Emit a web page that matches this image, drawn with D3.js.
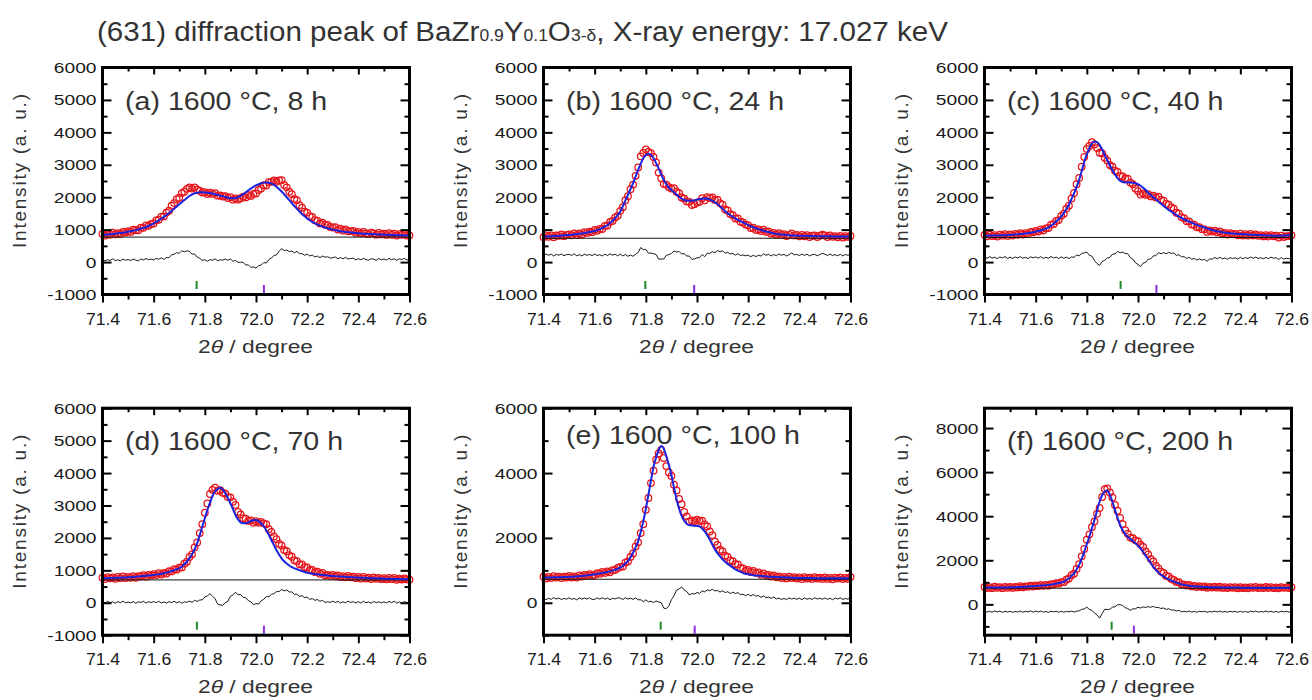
<!DOCTYPE html>
<html>
<head>
<meta charset="utf-8">
<script src="https://cdn.jsdelivr.net/npm/d3@7"></script>
<style>
  body { margin: 0; background: #fff; }
  svg { display: block; font-family: "Liberation Sans", Arial, Helvetica, sans-serif; }
</style>
</head>
<body>
<svg id="chart" width="1312" height="700"></svg>
<script>
// ---- scan grid (2θ, degrees) ----
const scanStart = 71.40;
const scanStep = 0.01;

// ---- panel captions ----
const panelLabels = ["(a) 1600 °C, 8 h", "(b) 1600 °C, 24 h", "(c) 1600 °C, 40 h",
                     "(d) 1600 °C, 70 h", "(e) 1600 °C, 100 h", "(f) 1600 °C, 200 h"];

// ---- axis ticks ----
const xMajorTicks = [71.4, 71.6, 71.8, 72.0, 72.2, 72.4, 72.6];
const xMinorTicks = [71.5, 71.7, 71.9, 72.1, 72.3, 72.5];
const yMajorStd = [-1000, 0, 1000, 2000, 3000, 4000, 5000, 6000];
const yMinorStd = [-500, 500, 1500, 2500, 3500, 4500, 5500];
const yMajorE = [0, 2000, 4000, 6000];
const yMinorE = [-1000, 1000, 3000, 5000];
const yMajorF = [0, 2000, 4000, 6000, 8000];
const yMinorF = [-1000, 1000, 3000, 5000, 7000];
const yDomains = [[-1000, 6000], [-1000, 6000], [-1000, 6000], [-1000, 6000], [-1000, 6000], [-1400, 8900]];

// ---- refinement extras ----
const backgroundLevel = [770, 735, 760, 705, 725, 730];
const diffOffset = [65, 219, 137, 15, 125, -333];
const braggGreen = [71.768, 71.798, 71.932, 71.769, 71.858, 71.897];
const braggPurple = [72.031, 71.989, 72.072, 72.031, 71.991, 71.984];

// ---- observed intensities (71.40 … 72.60, step 0.01) ----
const obsA = [866,819,862,845,903,857,891,866,932,910,
  950,930,996,980,981,1060,1055,1128,1118,1173,
  1190,1286,1305,1402,1407,1525,1582,1737,1819,1937,
  1985,2128,2169,2258,2301,2265,2305,2230,2200,2142,
  2153,2100,2138,2102,2128,2047,2055,2023,2035,1975,
  2000,1925,1960,1925,1970,2015,1995,2060,2040,2105,
  2115,2225,2270,2370,2360,2460,2475,2520,2480,2515,
  2525,2380,2305,2170,2095,1950,1910,1755,1675,1555,
  1525,1415,1390,1290,1277,1193,1213,1151,1142,1080,
  1065,1078,1002,1028,975,1009,949,955,957,900,
  928,887,927,882,862,903,884,845,896,853,
  875,837,889,841,873,820,862,839,866,818,
  825];
const obsB = [764,818,782,822,767,822,808,849,800,840,
  856,828,886,835,880,851,919,899,941,922,
  989,965,1025,1020,1118,1129,1240,1270,1375,1425,
  1580,1690,1910,2030,2245,2390,2660,2915,3260,3365,
  3470,3395,3360,3240,3070,2760,2585,2405,2390,2310,
  2265,2275,2170,2125,1990,1955,1870,1858,1760,1785,
  1835,1860,1970,1907,2005,1975,1990,1915,1925,1820,
  1770,1620,1590,1480,1443,1345,1345,1242,1222,1155,
  1135,1050,1062,992,1005,955,1002,935,945,875,
  900,845,888,838,860,803,837,887,823,835,
  793,840,793,831,774,812,820,774,812,846,
  820,774,823,777,801,765,809,758,802,776,
  805];
const obsC = [840,795,846,802,828,790,842,815,863,807,
  851,816,867,844,892,851,892,864,932,917,
  958,941,1006,975,1040,1050,1155,1170,1265,1295,
  1425,1490,1650,1740,1960,2130,2400,2595,2940,3240,
  3490,3580,3695,3625,3515,3370,3350,3215,3130,2990,
  2945,2815,2780,2660,2640,2580,2570,2450,2400,2270,
  2190,2080,2120,2075,2090,2025,2050,1990,2020,1920,
  1890,1790,1770,1685,1645,1520,1495,1387,1350,1257,
  1255,1160,1152,1072,1078,1015,1009,929,973,939,
  971,915,946,883,901,850,890,857,870,824,
  873,818,858,819,865,821,852,809,830,791,
  827,789,832,795,813,757,813,771,802,799,
  830];
const obsD = [774,732,790,753,781,739,797,760,813,761,
  795,770,821,772,824,811,853,806,859,838,
  882,853,910,873,919,904,972,968,1036,1020,
  1083,1090,1205,1268,1410,1494,1710,1859,2150,2423,
  2775,3062,3355,3483,3550,3454,3470,3395,3365,3260,
  3252,3115,3017,2800,2721,2605,2590,2525,2537,2470,
  2513,2465,2495,2450,2425,2270,2182,2045,1958,1820,
  1766,1630,1590,1470,1420,1308,1285,1185,1180,1095,
  1089,1003,1014,947,961,896,917,843,860,828,
  861,815,844,789,819,784,829,784,804,759,
  795,747,799,751,773,730,782,744,766,728,
  759,722,765,728,766,709,742,715,748,721,
  714];
const obsE = [801,748,795,762,819,776,808,765,802,779,
  826,780,815,776,843,811,855,835,885,841,
  858,916,895,950,920,969,938,1005,1013,1073,
  1102,1115,1240,1276,1415,1521,1735,1863,2150,2420,
  2865,3232,3690,4074,4410,4604,4717,4465,4215,4020,
  3910,3640,3465,3200,3040,2800,2665,2510,2540,2523,
  2560,2522,2535,2414,2355,2199,2085,1883,1785,1635,
  1582,1455,1415,1305,1285,1191,1180,1077,1060,992,
  1013,949,982,922,933,865,903,847,856,811,
  846,788,810,762,794,751,803,765,787,749,
  785,734,788,747,771,735,789,748,772,736,
  780,735,770,725,775,745,785,730,765,740,
  795];
const obsF = [788,739,775,736,797,753,784,736,793,755,
  793,746,790,770,820,771,818,800,852,805,
  858,826,880,840,879,849,915,905,965,940,
  1005,1005,1115,1172,1320,1389,1605,1823,2180,2514,
  2935,3176,3510,3768,4110,4372,4870,5231,5262,5080,
  4850,4513,4245,3926,3640,3362,3205,3030,3000,2903,
  2870,2710,2605,2402,2270,2064,1945,1751,1635,1485,
  1428,1290,1265,1153,1110,1015,1008,908,898,854,
  878,815,839,789,825,787,815,754,788,760,
  798,756,799,747,775,738,782,751,775,729,
  778,733,773,728,783,748,788,738,768,743,
  788,743,778,733,768,728,783,748,773,738,
  778];

// ---- calculated profiles (same grid) ----
const calcA = [836,844,852,860,868,877,886,896,907,920,
  935,950,966,985,1006,1030,1055,1083,1113,1148,
  1190,1236,1285,1337,1392,1450,1512,1577,1644,1712,
  1780,1848,1914,1978,2036,2085,2120,2140,2150,2152,
  2148,2140,2128,2112,2093,2072,2050,2028,2005,1985,
  1970,1965,1975,2000,2040,2090,2150,2210,2270,2320,
  2365,2400,2430,2450,2455,2445,2420,2380,2325,2255,
  2175,2090,2000,1910,1820,1730,1645,1560,1480,1410,
  1345,1290,1240,1195,1157,1123,1093,1066,1042,1020,
  1000,983,967,953,940,929,919,910,902,895,
  888,882,877,872,867,863,859,855,851,848,
  845,842,839,836,833,830,827,824,821,818,
  815];
const calcB = [784,788,792,797,802,807,813,819,825,830,
  836,843,851,860,870,881,894,909,926,942,
  959,985,1015,1050,1093,1144,1205,1275,1355,1450,
  1555,1720,1895,2070,2250,2430,2640,2840,3030,3200,
  3300,3340,3300,3200,3055,2890,2710,2530,2400,2300,
  2220,2150,2080,2015,1960,1915,1900,1893,1895,1905,
  1925,1940,1955,1962,1950,1925,1890,1845,1790,1715,
  1640,1570,1505,1450,1398,1350,1305,1262,1222,1180,
  1140,1105,1072,1042,1015,990,967,945,925,905,
  885,870,858,848,840,833,827,822,818,815,
  813,810,808,806,804,802,800,799,797,796,
  795,794,793,792,791,790,789,788,787,786,
  785];
const calcC = [815,815,816,817,818,820,822,825,828,832,
  836,841,847,854,862,871,882,894,907,922,
  938,956,976,1000,1030,1070,1120,1180,1250,1325,
  1400,1510,1635,1770,1940,2120,2320,2540,2810,3095,
  3320,3510,3650,3715,3700,3610,3470,3300,3140,2985,
  2840,2700,2590,2510,2470,2455,2450,2450,2445,2430,
  2400,2355,2290,2220,2140,2065,1995,1930,1865,1800,
  1735,1670,1610,1555,1500,1450,1405,1362,1320,1282,
  1245,1210,1177,1147,1118,1090,1064,1039,1013,989,
  966,950,936,923,911,900,890,882,875,869,
  863,858,853,849,845,841,837,834,830,826,
  822,819,817,815,813,812,813,816,822,834,
  850];
const calcD = [754,757,760,763,766,769,772,775,778,781,
  785,790,796,802,809,816,823,831,839,848,
  857,868,880,893,909,929,952,978,1006,1035,
  1063,1120,1190,1268,1375,1494,1650,1834,2080,2348,
  2610,2862,3090,3293,3440,3509,3550,3490,3375,3230,
  3067,2890,2707,2570,2481,2455,2450,2475,2522,2545,
  2553,2520,2450,2360,2245,2100,1937,1780,1628,1490,
  1371,1280,1210,1150,1100,1063,1035,1005,975,950,
  929,913,899,887,876,866,857,848,840,833,
  826,820,814,809,804,799,794,789,784,779,
  775,772,769,766,763,760,757,754,751,748,
  744,742,740,738,736,734,732,730,728,726,
  724];
const calcE = [776,778,780,782,784,786,788,790,792,794,
  796,800,805,811,818,826,835,845,855,866,
  878,891,905,920,935,949,968,990,1018,1048,
  1082,1140,1210,1286,1400,1541,1710,1898,2180,2510,
  2900,3327,3770,4194,4480,4704,4837,4755,4520,4245,
  3940,3550,3200,2900,2680,2530,2440,2395,2380,2378,
  2370,2357,2290,2204,2085,1949,1795,1643,1530,1430,
  1337,1265,1200,1145,1085,1031,990,952,920,897,
  878,864,852,842,833,825,818,812,806,801,
  796,793,790,787,784,781,778,775,772,769,
  765,764,763,762,761,760,759,758,757,756,
  755,755,755,755,755,755,755,755,755,755,
  755];
const calcF = [758,759,760,761,762,763,764,766,768,770,
  773,776,780,785,790,796,803,810,817,825,
  833,841,850,860,869,879,895,915,940,965,
  985,1030,1100,1182,1290,1409,1580,1788,2070,2394,
  2730,3076,3450,3833,4250,4667,4950,5121,5167,4970,
  4650,4288,3930,3606,3360,3182,3060,2970,2870,2773,
  2665,2545,2385,2212,2040,1864,1705,1561,1440,1340,
  1258,1190,1130,1078,1030,985,948,913,883,864,
  848,835,824,814,805,797,790,784,778,775,
  773,771,769,767,765,763,762,761,760,759,
  758,758,758,758,758,758,758,758,758,758,
  758,758,758,758,758,758,758,758,758,758,
  758];

const observed = [obsA, obsB, obsC, obsD, obsE, obsF];
const calculated = [calcA, calcB, calcC, calcD, calcE, calcF];
const yMajor = [yMajorStd, yMajorStd, yMajorStd, yMajorStd, yMajorE, yMajorF];
const yMinor = [yMinorStd, yMinorStd, yMinorStd, yMinorStd, yMinorE, yMinorF];

// ---- layout ----
const colLeft = [102.5, 543.5, 984.5];
const rowTop = [67.5, 408.2];
const PW = 307, PH = 227;
const captionDy = [42.5, 42.5, 42.5, 42, 35.5, 42];

const svg = d3.select("#chart");

// widen a text element by factor k relative to its natural advance
function stretch(sel, k, mode) {
  sel.each(function () {
    const w = this.getComputedTextLength();
    d3.select(this).attr("textLength", w * k).attr("lengthAdjust", mode || "spacingAndGlyphs");
  });
}

// ---- title ----
const titleParts = [["(631) diffraction peak of BaZr", false], ["0.9", true], ["Y", false], ["0.1", true],
                    ["O", false], ["3-δ", true], [", X-ray energy: 17.027 keV", false]];
const title = svg.append("text").attr("x", 97).attr("y", 41)
  .attr("font-size", 27).attr("fill", "#333");
titleParts.forEach(([t, sub]) => {
  const ts = title.append("tspan").text(t);
  if (sub) ts.attr("font-size", 16);
});
title.attr("textLength", 851).attr("lengthAdjust", "spacingAndGlyphs");

const fmt = d => String(d);

observed.forEach((obs, i) => {
  const calc = calculated[i];
  const left = colLeft[i % 3], top = rowTop[Math.floor(i / 3)];
  const bottom = top + PH, right = left + PW;
  const x = d3.scaleLinear().domain([71.4, 72.6]).range([left, right]);
  const y = d3.scaleLinear().domain(yDomains[i]).range([bottom, top]);
  const g = svg.append("g");
  const tAt = j => scanStart + j * scanStep;

  // difference curve
  const diff = obs.map((v, j) => [tAt(j), v - calc[j] + diffOffset[i]]);
  g.append("path").datum(diff)
    .attr("d", d3.line().x(d => x(d[0])).y(d => y(d[1])))
    .attr("fill", "none").attr("stroke", "#1a1a1a").attr("stroke-width", 1);

  // observed points
  g.append("g").selectAll("circle").data(obs).join("circle")
    .attr("cx", (v, j) => x(tAt(j))).attr("cy", v => y(v)).attr("r", 3.3)
    .attr("fill", "none").attr("stroke", "#e5141a").attr("stroke-width", 1.25);

  // background line
  g.append("line")
    .attr("x1", x(71.4)).attr("x2", x(72.6))
    .attr("y1", y(backgroundLevel[i])).attr("y2", y(backgroundLevel[i]))
    .attr("stroke", "#111").attr("stroke-width", 1);

  // calculated profile
  g.append("path").datum(calc.map((v, j) => [tAt(j), v]))
    .attr("d", d3.line().x(d => x(d[0])).y(d => y(d[1])).curve(d3.curveMonotoneX))
    .attr("fill", "none").attr("stroke", "#1a22dd").attr("stroke-width", 2);

  // reflection markers
  g.append("line").attr("x1", x(braggGreen[i])).attr("x2", x(braggGreen[i]))
    .attr("y1", bottom - 13.5).attr("y2", bottom - 5.5)
    .attr("stroke", "#1d8a2a").attr("stroke-width", 2);
  g.append("line").attr("x1", x(braggPurple[i])).attr("x2", x(braggPurple[i]))
    .attr("y1", bottom - 9.5).attr("y2", bottom - 1.5)
    .attr("stroke", "#8a2ee0").attr("stroke-width", 2);

  // axes
  const axStyle = a => a.call(s => s.select(".domain").remove())
    .call(s => s.selectAll("line").attr("stroke", "#000").attr("stroke-width", 2));

  g.append("g").attr("transform", `translate(${left},0)`)
    .call(d3.axisLeft(y).tickValues(yMajor[i]).tickSize(-9).tickPadding(6).tickFormat(fmt))
    .call(axStyle)
    .call(s => s.selectAll("text").attr("font-size", 15.5).attr("fill", "#1a1a1a")
      .attr("font-family", null).call(stretch, 1.24));
  g.append("g").attr("transform", `translate(${left},0)`)
    .call(d3.axisLeft(y).tickValues(yMinor[i]).tickSize(-5).tickFormat(""))
    .call(axStyle);
  g.append("g").attr("transform", `translate(${right},0)`)
    .call(d3.axisRight(y).tickValues(yMajor[i]).tickSize(-9).tickFormat(""))
    .call(axStyle);
  g.append("g").attr("transform", `translate(${right},0)`)
    .call(d3.axisRight(y).tickValues(yMinor[i]).tickSize(-5).tickFormat(""))
    .call(axStyle);

  g.append("g").attr("transform", `translate(0,${bottom})`)
    .call(d3.axisBottom(x).tickValues(xMajorTicks).tickSize(8).tickFormat(d3.format(".1f")))
    .call(axStyle)
    .call(s => s.selectAll("text").attr("font-size", 16).attr("fill", "#1a1a1a")
      .attr("font-family", null).attr("y", 30).attr("dy", 0).call(stretch, 1.1));
  g.append("g").attr("transform", `translate(0,${bottom})`)
    .call(d3.axisBottom(x).tickValues(xMinorTicks).tickSize(5).tickFormat(""))
    .call(axStyle);
  g.append("g").attr("transform", `translate(0,${top})`)
    .call(d3.axisTop(x).tickValues(xMajorTicks).tickSize(-7).tickFormat(""))
    .call(axStyle);
  g.append("g").attr("transform", `translate(0,${top})`)
    .call(d3.axisTop(x).tickValues(xMinorTicks).tickSize(-4).tickFormat(""))
    .call(axStyle);

  // frame
  g.append("rect").attr("x", left).attr("y", top).attr("width", PW).attr("height", PH)
    .attr("fill", "none").attr("stroke", "#000").attr("stroke-width", 3);

  // caption
  g.append("text").attr("x", left + 22.5).attr("y", top + captionDy[i])
    .attr("font-size", 26).attr("fill", "#333").text(panelLabels[i])
    .call(stretch, 1.1);

  // axis titles
  g.append("text")
    .attr("transform", `translate(${left - 77},${top + PH / 2 - 10}) rotate(-90)`)
    .attr("text-anchor", "middle").attr("font-size", 19).attr("fill", "#333")
    .text("Intensity (a. u.)")
    .attr("textLength", 154).attr("lengthAdjust", "spacing");

  const xl = g.append("text").attr("x", left + PW / 2 - 0.5).attr("y", bottom + 58)
    .attr("text-anchor", "middle").attr("font-size", 18).attr("fill", "#333");
  xl.append("tspan").text("2");
  xl.append("tspan").attr("font-style", "italic").text("θ");
  xl.append("tspan").text(" / degree");
  xl.attr("textLength", 115).attr("lengthAdjust", "spacingAndGlyphs");
});
</script>
</body>
</html>
